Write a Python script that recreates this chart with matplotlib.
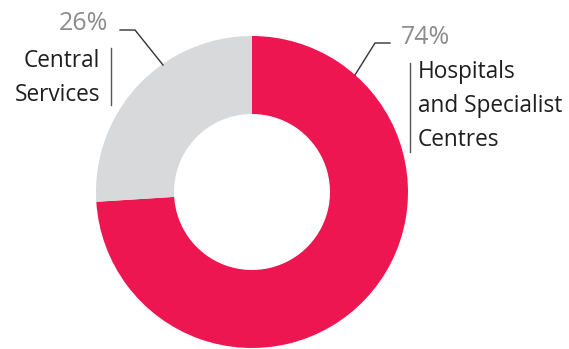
import matplotlib
matplotlib.use('Agg')
import matplotlib.pyplot as plt

# data
labels = ['Hospitals\nand Specialist\nCentres', 'Central\nServices']
shares = [74, 26]
colors = ['#ED1650', '#D8D9DB']

W, H = 569, 349
fig = plt.figure(figsize=(W / 100, H / 100), dpi=100)
ax = fig.add_axes([0, 0, 1, 1])
ax.set_xlim(0, W)
ax.set_ylim(0, H)
ax.axis('off')


def py(y):
    # pixel y (from top) -> data y
    return H - y


ax.pie(shares, colors=colors, startangle=90, counterclock=False,
       radius=156, center=(252, py(192)),
       wedgeprops=dict(width=78, linewidth=0))
ax.set_xlim(0, W)
ax.set_ylim(0, H)
ax.set_aspect('equal')

font = 'Open Sans'
wt = 'normal'
pct_color = '#8c8c8c'
txt_color = '#1e1e1e'

# right label (74%)
ax.plot([390, 375, 355], [py(43), py(43), py(75)], color='#333333', lw=1)
ax.text(401, py(38), f'{shares[0]}%', color=pct_color, fontsize=18,
        family=font, weight=wt, ha='left', va='center')
ax.plot([410, 410], [py(63), py(152)], color='#555555', lw=1)
ax.text(418, py(106), labels[0], color=txt_color, fontsize=16.3, family=font,
        weight=wt, ha='left', va='center', linespacing=1.58)

# left label (26%)
ax.plot([120, 135, 163], [py(30), py(30), py(65)], color='#333333', lw=1)
ax.text(108, py(24), f'{shares[1]}%', color=pct_color, fontsize=18,
        family=font, weight=wt, ha='right', va='center')
ax.plot([111, 111], [py(48), py(105)], color='#555555', lw=1)
ax.text(100, py(78), labels[1], color=txt_color, fontsize=16.3, family=font,
        weight=wt, ha='right', va='center', linespacing=1.58)

fig.savefig('out.png', dpi=100)
